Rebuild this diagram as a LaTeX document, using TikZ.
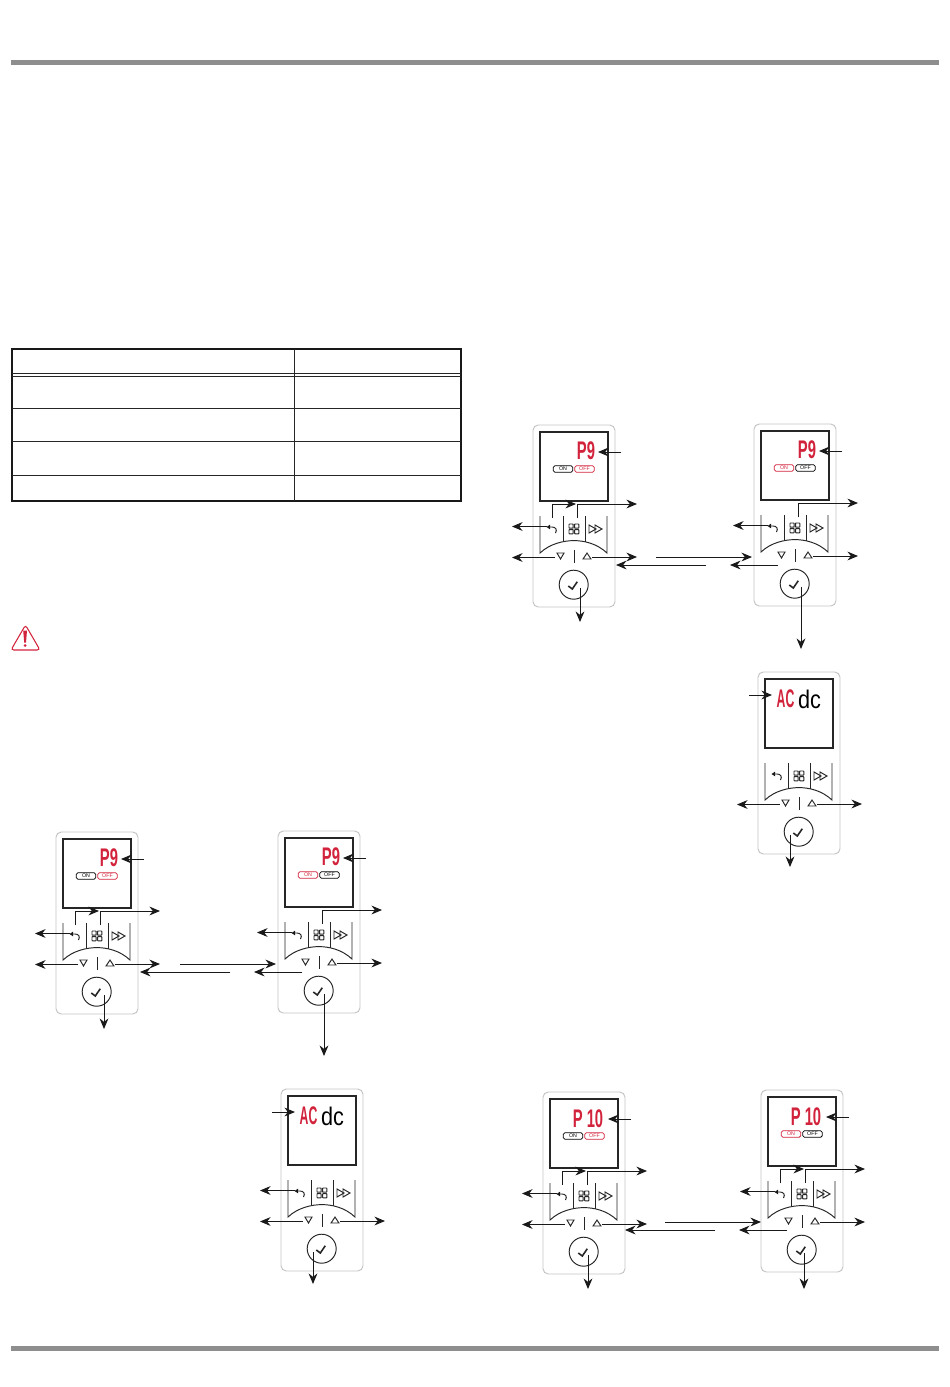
\documentclass[tikz,border=0pt]{standalone}
\usepackage{fontspec}
\usetikzlibrary{arrows.meta}
\newfontfamily\cifrefont{Liberation Sans}
\definecolor{rossoled}{HTML}{D2233C}
\definecolor{grigiobarra}{HTML}{8E8E8E}
\definecolor{grigioguscio}{HTML}{C4C4C4}
\newcommand{\cifre}[2][0.58]{\scalebox{#1}[1]{#2}}

\begin{document}
\begin{tikzpicture}[
  x=0.02cm, y=-0.02cm,
  tratto/.style={draw=black!85, line width=0.55pt},
  puntatore/.style={draw=black!90, line width=0.5pt, -{Stealth[length=6pt,width=5pt]}},
  barra/.style={fill=grigiobarra},
  guscio/.style={draw=grigioguscio, line width=0.55pt, rounded corners=3pt},
  cifra/.style={font=\fontsize{14.5}{15}\cifrefont\bfseries, inner sep=0pt, text=rossoled},
  badge/.style={draw=#1, text=#1, line width=0.45pt, rounded corners=0.8pt, inner sep=0pt,
                minimum width=11pt, minimum height=3.6pt,
                font=\fontsize{3}{3}\cifrefont}
]
\useasboundingbox (0,0) rectangle (950,1387);

% ---- barre di pagina
\fill[barra] (11,60) rectangle (939,65);
\fill[barra] (11,1346) rectangle (939,1351);

% ---- tabella
\draw[draw=black!90, line width=1.1pt] (12,349) rectangle (461,501);
\draw[tratto] (294,349) -- (294,501);
\foreach \y in {373.8,376.4,408,441,475} {
  \draw[tratto, line width=0.45pt] (12,\y) -- (461,\y);
}

% ---- triangolo di avvertenza
\draw[draw=rossoled, line width=0.6pt, rounded corners=1.6pt]
  (25.5,625) -- (40,650) -- (11,650) -- cycle;
\fill[rossoled] (23.2,630.5) -- (27,630.5) -- (26,642.5) -- (24.2,642.5) -- cycle;
\fill[rossoled] (25.1,645.5) circle (1.5);

% ---- tastierini: nome / x / y / piede freccia ok (x,y)
\foreach \nome/\x/\y/\okx/\oky in {
  d1/533/425/47/197, d2/754/424/47/225, d3/758/672/32/195,
  d4/56/832/48/197,  d5/278/831/46/225, d6/281/1089/32/195,
  d7/543/1092/45/197, d8/761/1090/43/199} {
  \begin{scope}[shift={(\x,\y)}]
    \draw[guscio] (0,0) rectangle (82,182);
    \draw[tratto, line width=0.65pt] (7,7) rectangle (75,76);
    % tasti superiori e arco
    \draw[tratto] (7,91) -- (7,128) .. controls (17,118.5) and (31,115.6) .. (41,115.6)
                  .. controls (51,115.6) and (64,118.5) .. (74,128) -- (74,91);
    \draw[tratto] (30,91) -- (30,117);
    \draw[tratto] (52,91) -- (52,117);
    % icona indietro
    \draw[tratto] (22.5,108) .. controls (24.5,104.5) and (22.5,102) .. (19,102) -- (15.5,102);
    \fill[black!90] (13.5,102) -- (17,99.7) -- (17,104.3) -- cycle;
    % icona griglia
    \foreach \qx/\qy in {36/99, 41.6/99, 36/104.6, 41.6/104.6} {
      \draw[tratto, rounded corners=0.3pt] (\qx,\qy) rectangle ++(4.2,4.2);
    }
    % icona avanti
    \draw[tratto] (56,100) -- (63,104) -- (56,108) -- cycle;
    \draw[tratto] (62,100) -- (69,104) -- (62,108) -- cycle;
    % frecce su e giu'
    \draw[tratto] (24,128) -- (31,128) -- (27.5,134) -- cycle;
    \draw[tratto] (50,134) -- (58,134) -- (54,128) -- cycle;
    \draw[tratto] (41,125) -- (41,138);
    % tasto ok
    \draw[tratto] (40.7,159.7) circle (14.5);
    \draw[tratto, line width=0.9pt] (35.3,161) -- (39.3,164) -- (44.3,156.7);
    % punti di attacco
    \coordinate (\nome-dispA) at (88,27);
    \coordinate (\nome-dispB) at (65,27);
    \coordinate (\nome-bkA) at (19,93);
    \coordinate (\nome-bkB) at (43,79);
    \coordinate (\nome-grA) at (44,93);
    \coordinate (\nome-grB) at (104,79);
    \coordinate (\nome-indA) at (14,101.5);
    \coordinate (\nome-indB) at (-21,101.5);
    \coordinate (\nome-giuA) at (22,132.5);
    \coordinate (\nome-giuB) at (-21,132.5);
    \coordinate (\nome-suA) at (59,132);
    \coordinate (\nome-suB) at (104,132);
    \coordinate (\nome-okA) at (\okx,163);
    \coordinate (\nome-okB) at (\okx,\oky);
  \end{scope}
}

% ---- display con P e stato
\foreach \nome/\testo/\cx/\cy/\col/\cola in {
  d1/P9/53/26/black/rossoled, d2/P9/53/26/rossoled/black,
  d4/P9/53/26/black/rossoled, d5/P9/53/26/rossoled/black,
  d7/P 10/45/27/black/rossoled, d8/P 10/45/27/rossoled/black} {
  \begin{scope}[shift={(\nome-dispA)}, shift={(-88,-27)}]
    \node[cifra] (\nome-val) at (\cx,\cy) {\cifre{\testo}};
    \node[badge=\col] (\nome-on) at (30,44) {ON};
    \node[badge=\cola] (\nome-off) at (51.5,44) {OFF};
  \end{scope}
}

% ---- display AC dc
\foreach \nome in {d3,d6} {
  \begin{scope}[shift={(\nome-dispA)}, shift={(-88,-27)}]
    \node[cifra] (\nome-ac) at (27.5,27) {\cifre[0.48]{AC}};
    \node[cifra, text=black, font=\fontsize{14.5}{15}\cifrefont] (\nome-dc) at (51.5,27.5) {\cifre[0.85]{dc}};
  \end{scope}
}

% ---- frecce dei tastierini
\foreach \nome in {d1,d2,d4,d5,d7,d8} {
  \draw[puntatore] (\nome-dispA) -- (\nome-dispB);
  \draw[puntatore] (\nome-grA) |- (\nome-grB);
}
\foreach \nome in {d1,d4,d7,d8} {
  \draw[puntatore] (\nome-bkA) |- (\nome-bkB);
}
\foreach \nome in {d1,d2,d4,d5,d6,d7,d8} {
  \draw[puntatore] (\nome-indA) -- (\nome-indB);
}
\foreach \nome in {d1,d3,d4,d6,d7} {
  \draw[puntatore] (\nome-giuA) -- (\nome-giuB);
}
\foreach \nome in {d1,d2,d3,d4,d5,d6,d7,d8} {
  \draw[puntatore] (\nome-suA) -- (\nome-suB);
  \draw[puntatore] (\nome-okA) -- (\nome-okB);
}
\foreach \nome in {d3,d6} {
  \coordinate (\nome-acA) at ([shift={(-97,-4)}]\nome-dispA);
  \coordinate (\nome-acB) at ([shift={(-74,-4)}]\nome-dispA);
  \draw[puntatore] (\nome-acA) -- (\nome-acB);
}

% ---- frecce di passaggio tra i tastierini
\foreach \nome/\x/\y in {g1/656/557, g2/180/964, g3/665/1222} {
  \coordinate (\nome-vaA) at (\x,\y);
  \coordinate (\nome-vaB) at (\x+96,\y);
  \coordinate (\nome-rA) at (\x+50,\y+8);
  \coordinate (\nome-rB) at (\x-40,\y+8);
  \coordinate (\nome-sA) at (\x+122,\y+8);
  \coordinate (\nome-sB) at (\x+74,\y+8);
  \draw[puntatore] (\nome-vaA) -- (\nome-vaB);
  \draw[puntatore] (\nome-rA) -- (\nome-rB);
  \draw[puntatore] (\nome-sA) -- (\nome-sB);
}

\end{tikzpicture}
\end{document}
